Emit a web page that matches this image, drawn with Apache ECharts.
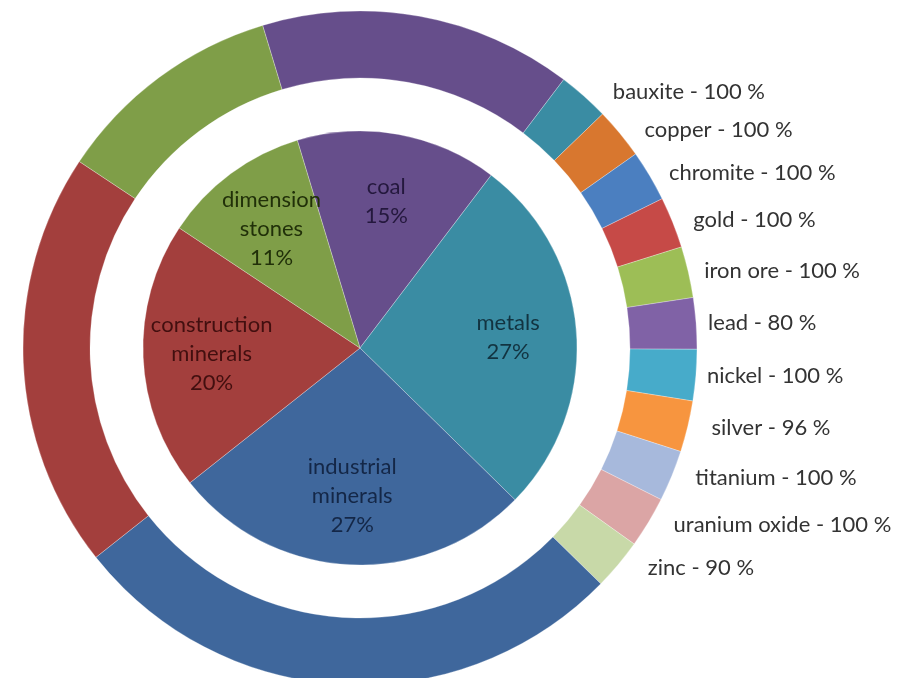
<!DOCTYPE html>
<html><head><meta charset="utf-8">
<script src="https://cdn.jsdelivr.net/npm/echarts@6/dist/echarts.min.js"></script>
<style>html,body{margin:0;padding:0;background:#fff}#c{width:900px;height:678px}</style>
</head><body><div id="c"></div>
<script>
// ---- data ----
const groups = ['coal', 'metals', 'industrial minerals', 'construction minerals', 'dimension stones'];
const groupShares = [15, 27, 27, 20, 11];
const metals = ['bauxite', 'copper', 'chromite', 'gold', 'iron ore', 'lead', 'nickel', 'silver', 'titanium', 'uranium oxide', 'zinc'];
// each metal occupies an equal slice of the metals arc in the outer ring
const metalRingShares = [2.4545, 2.4545, 2.4545, 2.4545, 2.4545, 2.4545, 2.4545, 2.4545, 2.4545, 2.4545, 2.4545];
const metalPercents = [100, 100, 100, 100, 100, 80, 100, 96, 100, 100, 90];

// ---- styles ----
const groupColors = ['#664e8b', '#3a8ca3', '#3f679c', '#a33f3d', '#7f9e48'];
const groupTextColors = ['#24183d', '#123340', '#142747', '#420f0f', '#213009'];
const metalColors = ['#3a8ca3', '#d8772f', '#4b7fc0', '#c64a47', '#9dbe56', '#8062a6', '#47abca', '#f7953f', '#a7b9dc', '#dba5a5', '#c8d9a8'];
const metalLabelGap = [20, 15, 9, 10, 5, 1, 0, 13, 13, 15, 20];

const FONT = 'Lato, "Open Sans", sans-serif';
const CX = 360, CY = 348, START = 106.8;
const border = { borderColor: 'rgba(255,255,255,0.35)', borderWidth: 0.8 };

const innerData = groups.map((g, i) => ({ name: g, value: groupShares[i], itemStyle: { color: groupColors[i] } }));
const labelData = groups.map((g, i) => ({
  name: g, value: groupShares[i],
  itemStyle: { color: 'rgba(0,0,0,0)', borderWidth: 0 },
  label: { color: groupTextColors[i] }
}));

const outerData = [];
groups.forEach((g, i) => {
  if (g === 'metals') {
    metals.forEach((m, j) => outerData.push({
      name: m, value: metalRingShares[j], pct: metalPercents[j],
      itemStyle: { color: metalColors[j] },
      label: { show: true },
      labelLine: { length2: metalLabelGap[j] }
    }));
  } else {
    outerData.push({ name: g, value: groupShares[i], itemStyle: { color: groupColors[i] }, label: { show: false } });
  }
});

const chart = echarts.init(document.getElementById('c'), null, { renderer: 'canvas' });
chart.setOption({
  backgroundColor: '#ffffff',
  animation: false,
  series: [
    {
      type: 'pie', left: 0, top: 0, width: 1400, height: 678,
      center: [CX, CY], radius: [0, 217], startAngle: START, clockwise: true,
      silent: true, label: { show: false }, labelLine: { show: false },
      itemStyle: border, data: innerData
    },
    {
      type: 'pie', left: 0, top: 0, width: 1400, height: 678,
      center: [CX, CY], radius: [74, 217], startAngle: START, clockwise: true,
      silent: true, z: 5,
      label: {
        show: true, position: 'inside', fontFamily: FONT, fontSize: 22, lineHeight: 29,
        align: 'center',
        formatter: p => p.name.replace(' ', '\n') + '\n' + p.value + '%'
      },
      labelLine: { show: false },
      data: labelData
    },
    {
      type: 'pie', left: 0, top: 0, width: 1400, height: 678,
      center: [CX, CY], radius: [270, 337], startAngle: START, clockwise: true,
      silent: true, avoidLabelOverlap: false,
      itemStyle: border,
      label: {
        position: 'outside', fontFamily: FONT, fontSize: 22, color: '#333333',
        distanceToLabelLine: 5,
        formatter: p => p.name + ' - ' + p.data.pct + ' %'
      },
      labelLine: { show: false, length: 6, length2: 0 },
      data: outerData
    }
  ]
});
</script></body></html>
